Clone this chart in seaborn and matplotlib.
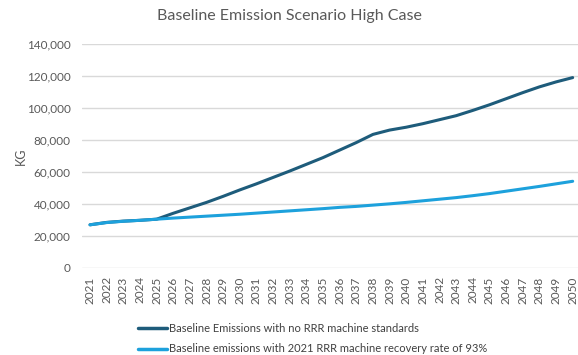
import numpy as np
import pandas as pd
import matplotlib
matplotlib.use("Agg")
import matplotlib.pyplot as plt
import seaborn as sns
from matplotlib.lines import Line2D

years = list(range(2021, 2051))
no_standards = [27000, 28500, 29300, 29800, 30500, 34200, 37600, 41000, 44800, 48800,
                52600, 56600, 60600, 64800, 69000, 73700, 78400, 83500, 86200, 88000,
                90200, 92700, 95200, 98500, 102000, 105800, 109600, 113200, 116300, 119000]
recovery_93 = [27000, 28400, 29200, 29800, 30500, 31200, 31800, 32400, 33000, 33600,
               34300, 35000, 35700, 36400, 37100, 37900, 38500, 39300, 40100, 41000,
               42000, 43000, 44000, 45200, 46500, 48000, 49500, 51000, 52600, 54200]
series_names = ["Baseline Emissions with no RRR machine standards",
                "Baseline emissions with 2021 RRR machine recovery rate of 93%"]
yticks = [0, 20000, 40000, 60000, 80000, 100000, 120000, 140000]

df = pd.DataFrame({
    "Year": years * 2,
    "KG": no_standards + recovery_93,
    "Series": [series_names[0]] * len(years) + [series_names[1]] * len(years),
})

sns.set_theme(style="white")
plt.rcParams['font.family'] = ['Lato', 'DejaVu Sans']
grey = "#595959"

fig = plt.figure(figsize=(5.78, 3.55), dpi=100)
ax = fig.add_axes([81.7 / 578, 1 - 268 / 355, (581 - 81.7) / 578, (268 - 44) / 355])

sns.lineplot(data=df, x="Year", y="KG", hue="Series",
             palette=["#1E5C7B", "#1DA1DC"], linewidth=2.2, ax=ax, legend=False)

ax.set_xlim(2020.5, 2050.5)
ax.set_ylim(0, 140000)
ax.set_yticks(yticks)
ax.set_yticklabels([f"{v:,}" for v in yticks], color=grey, fontsize=8.5)
ax.set_xticks(years)
ax.set_xticklabels([str(y) for y in years], rotation=90, color=grey, fontsize=8.5)
ax.tick_params(axis="y", length=0, pad=8)
ax.tick_params(axis="x", length=0, pad=6)
ax.grid(axis="y", color="#D9D9D9", linewidth=1)
ax.grid(axis="x", visible=False)
for s in ax.spines.values():
    s.set_visible(False)
ax.set_xlabel("")
ax.set_ylabel("KG", color=grey, fontsize=9, labelpad=0)

fig.text(0.5, 1 - 16 / 355, "Baseline Emission Scenario High Case",
         ha="center", va="center", fontsize=11.5, color=grey)

handles = [Line2D([], [], color="#1E5C7B", lw=2.5),
           Line2D([], [], color="#1DA1DC", lw=2.5)]
leg = fig.legend(handles, series_names, loc="upper left",
                 bbox_to_anchor=(128 / 578, 1 - 313 / 355), frameon=False,
                 fontsize=8, handlelength=2.6, handletextpad=0.2, labelspacing=0.85)
for t in leg.get_texts():
    t.set_color("#404040")

fig.savefig("out.png", dpi=100)
